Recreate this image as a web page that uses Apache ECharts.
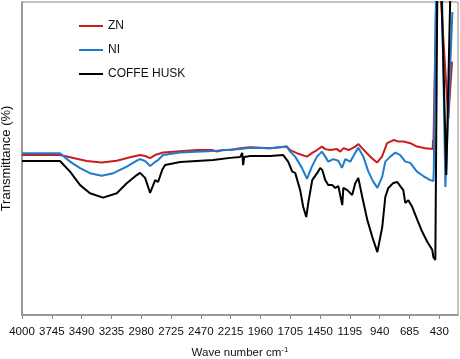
<!DOCTYPE html>
<html>
<head>
<meta charset="utf-8">
<script src="https://cdn.jsdelivr.net/npm/echarts@6/dist/echarts.min.js"></script>
<style>
  html, body { margin: 0; padding: 0; background: #fff; }
  #chart { width: 460px; height: 359px; }
</style>
</head>
<body>
<div id="chart"></div>
<script>
// tick labels on the wave number axis
let tickLabels = [4000, 3745, 3490, 3235, 2980, 2725, 2470, 2215, 1960, 1705, 1450, 1195, 940, 685, 430];

// ZN
let znWave = [4000, 3675, 3589, 3446, 3318, 3189, 3075, 2990, 2947, 2904, 2861, 2793, 2502, 2373, 2330, 2288, 2219, 2133, 2048, 1877, 1734, 1706, 1648, 1562, 1520, 1477, 1434, 1406, 1363, 1306, 1277, 1249, 1206, 1149, 1121, 1091, 1049, 1006, 963, 920, 877, 821, 778, 735, 678, 621, 550, 486, 484, 481, 455, 421, 353, 321];
let znT = [51.1, 51.1, 50.4, 49.2, 48.7, 49.3, 50.4, 51.1, 50.8, 50.1, 51.1, 51.9, 52.7, 52.7, 52.2, 52.7, 52.7, 53.3, 53.6, 53.3, 53.8, 52.7, 51.7, 50.6, 51.7, 52.7, 53.8, 53.0, 52.7, 53.0, 52.2, 53.3, 52.7, 53.8, 54.6, 53.3, 51.7, 50.1, 48.7, 50.6, 54.9, 55.9, 55.4, 55.4, 54.9, 53.8, 53.3, 53.0, 55.9, 53.0, 103.8, 103.8, 62.8, 80.9];

// NI
let niWave = [4000, 3675, 3589, 3503, 3418, 3318, 3218, 3104, 3018, 2990, 2947, 2904, 2861, 2836, 2793, 2647, 2365, 2133, 2048, 1877, 1734, 1706, 1663, 1605, 1562, 1520, 1477, 1434, 1406, 1380, 1337, 1294, 1263, 1234, 1192, 1149, 1123, 1080, 1037, 995, 960, 918, 892, 849, 806, 764, 721, 678, 621, 567, 507, 481, 477, 458, 407, 378, 318];
let niT = [51.7, 51.7, 49.0, 46.9, 45.3, 44.5, 45.3, 47.4, 49.3, 49.8, 49.2, 47.6, 48.9, 49.5, 51.1, 51.9, 52.4, 53.0, 53.4, 53.3, 53.8, 52.2, 50.6, 47.0, 43.5, 47.4, 50.6, 52.2, 50.6, 49.0, 49.8, 49.3, 47.0, 49.8, 49.0, 51.8, 53.4, 50.6, 45.8, 42.6, 40.6, 44.2, 49.0, 50.6, 51.9, 51.1, 49.0, 48.6, 45.8, 44.4, 43.1, 42.8, 46.3, 103.8, 103.8, 40.9, 96.8];

// COFFE HUSK
let huskWave = [4000, 3675, 3589, 3503, 3418, 3306, 3189, 3104, 3018, 2990, 2947, 2904, 2861, 2836, 2801, 2776, 2647, 2365, 2219, 2133, 2125, 2116, 2108, 2099, 2048, 1877, 1765, 1748, 1722, 1688, 1663, 1620, 1594, 1568, 1551, 1517, 1474, 1449, 1431, 1406, 1380, 1346, 1320, 1294, 1277, 1260, 1251, 1217, 1175, 1149, 1123, 1089, 1046, 1003, 960, 918, 892, 866, 823, 789, 764, 738, 721, 695, 661, 618, 575, 532, 490, 481, 464, 447, 412, 370, 335];
let huskT = [49.2, 49.2, 45.8, 41.5, 38.9, 37.5, 38.9, 42.1, 44.7, 45.4, 43.8, 39.0, 43.1, 42.5, 46.3, 47.9, 48.9, 49.5, 50.2, 50.5, 50.5, 51.8, 47.9, 50.5, 50.8, 50.8, 51.1, 51.1, 48.9, 45.8, 45.4, 39.9, 34.5, 31.3, 35.8, 43.1, 45.4, 47.0, 46.3, 43.1, 41.5, 41.5, 40.6, 41.2, 40.6, 35.1, 40.6, 39.9, 38.3, 42.1, 43.8, 37.7, 30.4, 24.9, 20.1, 28.1, 37.7, 40.6, 42.2, 42.5, 41.2, 39.9, 35.8, 36.7, 34.5, 30.4, 26.5, 23.3, 20.8, 18.5, 17.6, 103.8, 103.8, 44.7, 103.8];

function pairs(xs, ys) {
    return xs.map(function (x, i) { return [x, ys[i]]; });
}

let dom = document.getElementById("chart");
let myChart = echarts.init(dom, null, { renderer: "canvas" });
let font = "'Liberation Sans', Arial, sans-serif";

let option = {
    animation: false,
    backgroundColor: "#fff",
    grid: {
        left: 22,
        right: 2,
        top: 2,
        bottom: 44,
        outerBoundsMode: "none",
        show: true,
        borderColor: "#8a8a8a",
        borderWidth: 1,
    },
    legend: {
        orient: "vertical",
        left: 79,
        top: 19,
        padding: 0,
        itemGap: 10,
        itemWidth: 24,
        itemHeight: 2,
        icon: "rect",
        textStyle: { fontFamily: font, fontSize: 12, color: "#111", lineHeight: 14 },
        data: ["ZN", "NI", "COFFE HUSK"],
    },
    xAxis: {
        type: "value",
        inverse: true,
        min: 270,
        max: 4000,
        name: "Wave number cm{sup|-1}",
        nameLocation: "middle",
        nameGap: 31,
        nameTextStyle: {
            fontFamily: font,
            fontSize: 11.5,
            color: "#111",
            rich: {
                sup: { fontSize: 8, color: "#111", fontFamily: font, padding: [0, 0, 6, 0] },
            },
        },
        splitLine: { show: false },
        axisLine: { lineStyle: { color: "#8a8a8a", width: 1.5 } },
        axisTick: { customValues: tickLabels, length: 4, lineStyle: { color: "#8a8a8a" } },
        axisLabel: {
            customValues: tickLabels,
            margin: 11,
            fontFamily: font,
            fontSize: 11.5,
            color: "#111",
            formatter: function (v) { return String(v); },
        },
    },
    yAxis: {
        type: "value",
        min: 0,
        max: 100,
        name: "Transmittance (%)",
        nameLocation: "middle",
        nameGap: 9,
        nameTextStyle: { fontFamily: font, fontSize: 13, color: "#111" },
        splitLine: { show: false },
        axisLine: { show: true, lineStyle: { color: "#8a8a8a", width: 1.5 } },
        axisTick: { show: false },
        axisLabel: { show: false },
    },
    series: [
        {
            name: "ZN",
            type: "line",
            showSymbol: false,
            color: "#c81e1e",
            lineStyle: { width: 2 },
            data: pairs(znWave, znT),
        },
        {
            name: "NI",
            type: "line",
            showSymbol: false,
            color: "#1f7bcb",
            lineStyle: { width: 2 },
            data: pairs(niWave, niT),
        },
        {
            name: "COFFE HUSK",
            type: "line",
            showSymbol: false,
            color: "#000",
            lineStyle: { width: 2 },
            data: pairs(huskWave, huskT),
        },
    ],
};

myChart.setOption(option);
window.addEventListener("resize", myChart.resize);
</script>
</body>
</html>
